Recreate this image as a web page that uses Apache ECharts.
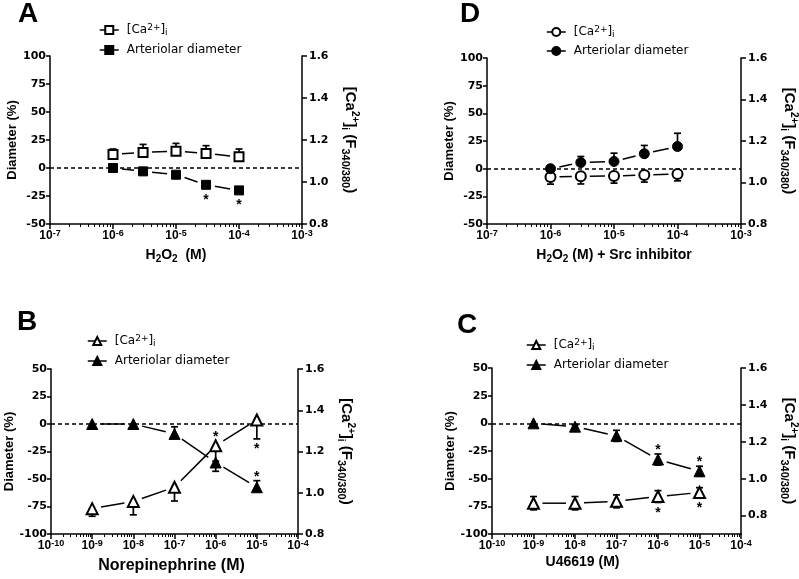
<!DOCTYPE html>
<html><head><meta charset="utf-8">
<script src="https://cdn.jsdelivr.net/npm/echarts@6/dist/echarts.min.js"></script>
<style>html,body{margin:0;padding:0;background:#fff}#c{width:799px;height:579px}</style>
</head><body><div id="c"></div>
<script>
// ---------------- DATA ----------------
const concH2O2 = [1e-6, 3e-6, 1e-5, 3e-5, 1e-4];
const concAgonist = [1e-9, 1e-8, 1e-7, 1e-6, 1e-5];

// Panel A: H2O2
const diaA = [0, -3, -6, -15, -20];
const diaA_up = [0, 0, 0, 0, 0];
const diaA_dn = [0, 0, 0, 0, 0];
const diaA_sig = [0, 0, 0, -1, -1];
const caA = [1.131, 1.141, 1.147, 1.136, 1.120];
const caA_up = [0.026, 0.038, 0.037, 0.037, 0.037];
const caA_dn = [0, 0, 0, 0, 0];
const caA_sig = [0, 0, 0, 0, 0];

// Panel D: H2O2 + Src inhibitor
const diaD = [0, 5.5, 6.5, 13.5, 20];
const diaD_up = [0, 5.5, 7.5, 7.5, 12];
const diaD_dn = [0, 0, 0, 0, 0];
const diaD_sig = [0, 0, 0, 0, 0];
const caD = [1.027, 1.030, 1.031, 1.036, 1.041];
const caD_up = [0, 0, 0, 0, 0];
const caD_dn = [0.035, 0.037, 0.034, 0.034, 0.033];
const caD_sig = [0, 0, 0, 0, 0];

// Panel B: Norepinephrine
const diaB = [0, 0, -9, -35, -57.5];
const diaB_up = [0, 0, 6.5, 0, 6];
const diaB_dn = [0, 0, 0, 8, 0];
const diaB_sig = [0, 0, 0, 0, 1];
const caB = [0.923, 0.958, 1.027, 1.228, 1.353];
const caB_up = [0, 0, 0, 0, 0];
const caB_dn = [0.037, 0.065, 0.067, 0.075, 0.092];
const caB_sig = [0, 0, 0, 1, -1];

// Panel C: U46619
const diaC = [0, -3, -11.3, -32.7, -43.3];
const diaC_up = [0, 1.5, 5, 5, 4.5];
const diaC_dn = [0, 1.5, 5, 5, 4.5];
const diaC_sig = [0, 0, 0, 1, 1];
const caC = [0.867, 0.867, 0.877, 0.903, 0.925];
const caC_up = [0.036, 0.036, 0.035, 0.032, 0.026];
const caC_dn = [0.036, 0.036, 0.035, 0.032, 0.026];
const caC_sig = [0, 0, 0, -1, -1];

const rightTicksC = [0.8, 1.0, 1.2, 1.4, 1.6];

// ---------------- LAYOUT ----------------
const panels = [
  { key:'A', conc:concH2O2, dia:[diaA,diaA_up,diaA_dn,diaA_sig], ca:[caA,caA_up,caA_dn,caA_sig],
    grid:{left:50, top:56, width:252, height:168}, x:[-7,-3], y:[-50,100], r:[0.8,1.6], rTicks:null,
    symbol:'rect', size:9, xName:'H{s|2}O{s|2}  (M)', xNameSize:14, xNameGap:22, xNamePad:[0,0,0,0],
    legend:{left:99, top:23, gap:6}, letter:{text:'A', left:18, top:0} },
  { key:'D', conc:concH2O2, dia:[diaD,diaD_up,diaD_dn,diaD_sig], ca:[caD,caD_up,caD_dn,caD_sig],
    grid:{left:487, top:58, width:254, height:166}, x:[-7,-3], y:[-50,100], r:[0.8,1.6], rTicks:null,
    symbol:'circle', size:10, xName:'H{s|2}O{s|2} (M) + Src inhibitor', xNameSize:14, xNameGap:22, xNamePad:[0,0,0,0],
    legend:{left:546, top:25, gap:5}, letter:{text:'D', left:460, top:0} },
  { key:'B', conc:concAgonist, dia:[diaB,diaB_up,diaB_dn,diaB_sig], ca:[caB,caB_up,caB_dn,caB_sig],
    grid:{left:51, top:369, width:247, height:165}, x:[-10,-4], y:[-100,50], r:[0.8,1.6], rTicks:null,
    symbol:'triangle', size:11, xName:'Norepinephrine (M)', xNameSize:16, xNameGap:22, xNamePad:[0,6,0,0],
    legend:{left:87, top:334, gap:6}, letter:{text:'B', left:17, top:308} },
  { key:'C', conc:concAgonist, dia:[diaC,diaC_up,diaC_dn,diaC_sig], ca:[caC,caC_up,caC_dn,caC_sig],
    grid:{left:492, top:368, width:249, height:166}, x:[-10,-4], y:[-100,50], r:[0.7,1.6], rTicks:rightTicksC,
    symbol:'triangle', size:11, xName:'U46619 (M)', xNameSize:14, xNameGap:11, xNamePad:[0,68,0,0],
    legend:{left:526, top:338, gap:6}, letter:{text:'C', left:457, top:311} }
];

const BLACK = '#000';
const tickFont = 'DejaVu Sans';
const titleFont = 'Liberation Sans';

function errRender(params, api) {
  const x = api.value(0), y = api.value(1), up = api.value(2), dn = api.value(3);
  const c = api.coord([x, y]);
  const st = {stroke: BLACK, lineWidth: 1.7};
  const ch = [];
  const cw = 3.5;
  if (up > 0) {
    const t = api.coord([x, y + up]);
    ch.push({type:'line', shape:{x1:c[0], y1:c[1], x2:t[0], y2:t[1]}, style:st});
    ch.push({type:'line', shape:{x1:t[0]-cw, y1:t[1], x2:t[0]+cw, y2:t[1]}, style:st});
  }
  if (dn > 0) {
    const t = api.coord([x, y - dn]);
    ch.push({type:'line', shape:{x1:c[0], y1:c[1], x2:t[0], y2:t[1]}, style:st});
    ch.push({type:'line', shape:{x1:t[0]-cw, y1:t[1], x2:t[0]+cw, y2:t[1]}, style:st});
  }
  return {type:'group', children:ch};
}

function segRender(params, api) {
  const p0 = api.coord([api.value(0), api.value(1)]);
  const p1 = api.coord([api.value(2), api.value(3)]);
  const dx = p1[0]-p0[0], dy = p1[1]-p0[1];
  const len = Math.sqrt(dx*dx+dy*dy);
  const g = 9;
  if (len <= 2*g) return {type:'group', children:[]};
  const ux = dx/len, uy = dy/len;
  return {type:'line', shape:{x1:p0[0]+ux*g, y1:p0[1]+uy*g, x2:p1[0]-ux*g, y2:p1[1]-uy*g},
    style:{stroke:BLACK, lineWidth:1.5}};
}

function starRender(params, api) {
  const x = api.value(0), y = api.value(1), up = api.value(2), dn = api.value(3), dir = api.value(4), half = api.value(5);
  const c = api.coord([x, y]);
  let py;
  if (dir > 0) {
    const e = api.coord([x, y + up])[1];
    py = Math.min(e, c[1] - half) - 7;
  } else {
    const e = api.coord([x, y - dn])[1];
    py = Math.max(e, c[1] + half) + 7;
  }
  return {type:'text', x:c[0], y:py + 3.5,
    style:{text:'*', fill:BLACK, font:'bold 14px "Liberation Sans"', textAlign:'center', textVerticalAlign:'middle'}};
}

const option = {
  animation:false, backgroundColor:'#fff',
  grid:[], xAxis:[], yAxis:[], series:[], legend:[], title:[]
};

const subRich = {
  b:{fontFamily:titleFont, fontWeight:'bold', fontSize:12, color:BLACK, lineHeight:14},
  s:{fontFamily:titleFont, fontWeight:'bold', fontSize:9, color:BLACK, verticalAlign:'top', lineHeight:8}
};

panels.forEach((p, pi) => {
  option.grid.push(Object.assign({outerBoundsMode:'none', containLabel:false}, p.grid));
  option.title.push({text:p.letter.text, left:p.letter.left, top:p.letter.top, padding:0,
    textStyle:{fontFamily:titleFont, fontWeight:'bold', fontSize:28, color:BLACK}});

  const minors = [];
  for (let n = p.x[0]; n < p.x[1]; n++) for (let k = 2; k <= 9; k++) minors.push(n + Math.log10(k));

  option.xAxis.push({
    type:'value', gridIndex:pi, position:'bottom', min:p.x[0], max:p.x[1], interval:1,
    axisLine:{show:true, onZero:false, lineStyle:{color:BLACK, width:1.5}},
    axisTick:{show:true, length:5, lineStyle:{color:BLACK, width:1.5}},
    splitLine:{show:false},
    axisLabel:{margin:5, formatter: v => '{b|10}{s|' + v + '}', rich:subRich},
    name:p.xName, nameLocation:'middle', nameGap:p.xNameGap,
    nameTextStyle:{fontFamily:titleFont, fontWeight:'bold', fontSize:p.xNameSize, color:BLACK, lineHeight:p.xNameSize+4,
      padding:p.xNamePad,
      rich:{s:{fontFamily:titleFont, fontWeight:'bold', fontSize:Math.round(p.xNameSize*0.7), color:BLACK, verticalAlign:'bottom', lineHeight:10}}}
  });
  option.xAxis.push({
    type:'value', gridIndex:pi, position:'bottom', min:p.x[0], max:p.x[1],
    axisLine:{show:false, onZero:false}, axisLabel:{show:false}, splitLine:{show:false},
    axisTick:{show:true, length:3, customValues:minors, lineStyle:{color:BLACK, width:1}}
  });
  option.yAxis.push({
    type:'value', gridIndex:pi, position:'left', min:p.y[0], max:p.y[1], interval:25,
    axisLine:{show:true, onZero:false, lineStyle:{color:BLACK, width:1.5}},
    axisTick:{show:true, length:4, lineStyle:{color:BLACK, width:1.5}},
    splitLine:{show:false},
    axisLabel:{margin:4, color:BLACK, fontFamily:tickFont, fontWeight:'bold', fontSize:11},
    name:'Diameter (%)', nameLocation:'middle', nameGap:31,
    nameTextStyle:{fontFamily:titleFont, fontWeight:'bold', fontSize:13, color:BLACK}
  });
  const right = {
    type:'value', gridIndex:pi, position:'right', min:p.r[0], max:p.r[1],
    axisLine:{show:true, onZero:false, lineStyle:{color:BLACK, width:1.5}},
    axisTick:{show:true, length:5, lineStyle:{color:BLACK, width:1.5}},
    splitLine:{show:false},
    axisLabel:{margin:7, color:BLACK, fontFamily:tickFont, fontWeight:'bold', fontSize:11, formatter:v => v.toFixed(1)},
    name:'[Ca{sup|2+}]{sub|i} (F{sub2|340/380})', nameLocation:'middle', nameGap:38, nameRotate:-90,
    nameTextStyle:{fontFamily:titleFont, fontWeight:'bold', fontSize:15, color:BLACK, lineHeight:20,
      rich:{
        sup:{fontFamily:titleFont, fontWeight:'bold', fontSize:10, color:BLACK, verticalAlign:'top', lineHeight:10},
        sub:{fontFamily:titleFont, fontWeight:'bold', fontSize:10, color:BLACK, verticalAlign:'bottom', lineHeight:10},
        sub2:{fontFamily:titleFont, fontWeight:'bold', fontSize:11, color:BLACK, verticalAlign:'bottom', lineHeight:10}
      }}
  };
  if (p.rTicks) {
    right.axisTick.customValues = p.rTicks;
    right.axisLabel.customValues = p.rTicks;
  } else {
    right.interval = 0.2;
  }
  option.yAxis.push(right);

  const xi = 2*pi, yl = 2*pi, yr = 2*pi + 1;
  const sets = [
    {name:'ca'+p.key, d:p.ca, yi:yr, open:true},
    {name:'dia'+p.key, d:p.dia, yi:yl, open:false}
  ];
  sets.forEach(s => {
    const [vals, up, dn, sig] = s.d;
    const xs = p.conc.map(c => Math.log10(c));
    option.series.push({type:'custom', xAxisIndex:xi, yAxisIndex:s.yi, z:2, silent:true,
      renderItem:errRender, data: xs.map((x,i) => [x, vals[i], up[i], dn[i]])});
    const seg = [];
    for (let i = 1; i < xs.length; i++) seg.push([xs[i-1], vals[i-1], xs[i], vals[i]]);
    option.series.push({type:'custom', xAxisIndex:xi, yAxisIndex:s.yi, z:2, silent:true,
      renderItem:segRender, data:seg, encode:{x:[0,2], y:[1,3]}});
  });
  sets.forEach(s => {
    const [vals] = s.d;
    const xs = p.conc.map(c => Math.log10(c));
    const ser = {type:'line', name:s.name, xAxisIndex:xi, yAxisIndex:s.yi, z:4,
      symbol:p.symbol, symbolSize:p.size, showSymbol:true,
      lineStyle:{opacity:0, width:1.5, color:BLACK},
      itemStyle: s.open ? {color:'#fff', borderColor:BLACK, borderWidth:2}
                        : {color:BLACK, borderColor:BLACK, borderWidth:1},
      emphasis:{disabled:true}, silent:true,
      data: xs.map((x,i) => [x, vals[i]])};
    if (!s.open) {
      ser.markLine = {silent:true, symbol:['none','none'], label:{show:false}, z:1,
        lineStyle:{type:[4,3], color:BLACK, width:1.5}, emphasis:{disabled:true}, data:[{yAxis:0}]};
    }
    option.series.push(ser);
  });
  sets.forEach(s => {
    const [vals, up, dn, sig] = s.d;
    const xs = p.conc.map(c => Math.log10(c));
    const sd = [];
    xs.forEach((x,i) => { if (sig[i]) sd.push([x, vals[i], up[i], dn[i], sig[i], p.size/2]); });
    option.series.push({type:'custom', xAxisIndex:xi, yAxisIndex:s.yi, z:5, silent:true,
      renderItem:starRender, data:sd});
  });

  option.legend.push({
    data:['ca'+p.key, 'dia'+p.key], orient:'vertical', left:p.legend.left, top:p.legend.top,
    itemWidth:19, itemHeight:10, itemGap:p.legend.gap, selectedMode:false, padding:0,
    lineStyle:{color:BLACK, width:1.5, opacity:1, type:'solid'},
    formatter: n => n.indexOf('ca') === 0 ? '[Ca{sup|2+}]{sub|i}' : 'Arteriolar diameter',
    textStyle:{fontFamily:'DejaVu Sans', fontSize:12, color:BLACK, lineHeight:14, padding:[0,0,0,3],
      rich:{
        sup:{fontFamily:'DejaVu Sans', fontSize:9, color:BLACK, verticalAlign:'top', lineHeight:8},
        sub:{fontFamily:'DejaVu Sans', fontSize:9, color:BLACK, verticalAlign:'bottom', lineHeight:8}
      }}
  });
});

const chart = echarts.init(document.getElementById('c'));
chart.setOption(option);
</script>
</body></html>
